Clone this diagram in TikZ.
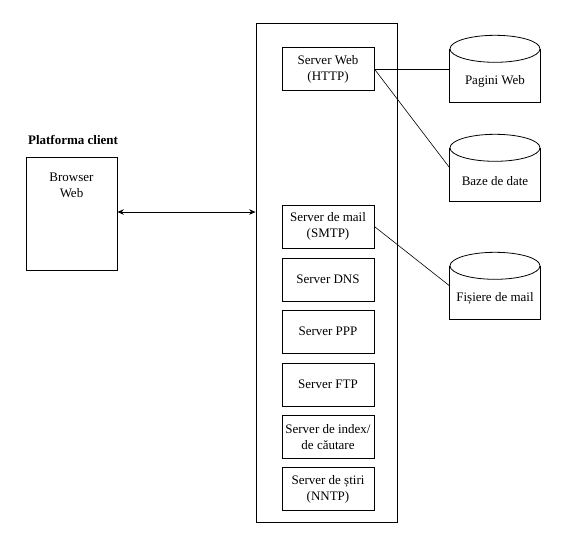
\documentclass[tikz,border=0pt]{standalone}
\usepackage{fontspec}
\setmainfont{Liberation Serif}
\usetikzlibrary{arrows.meta}
\newcommand{\mycyl}[1]{%
  \draw[line width=0.8pt] ([yshift=-13.5pt]#1.north) ellipse [x radius=45pt, y radius=13.5pt];
  \draw[line width=0.8pt] ([yshift=-13.5pt]#1.north west) -- (#1.south west) -- (#1.south east) -- ([yshift=-13.5pt]#1.north east);}
\begin{document}
\begin{tikzpicture}[x=1pt,y=-1pt,
  every node/.style={font=\fontsize{13}{16}\selectfont, align=center},
  srv/.style={draw, line width=0.8pt, minimum width=92pt, minimum height=43pt, inner sep=0pt},
  db/.style={minimum width=90pt, minimum height=67pt, inner sep=0pt},
  link/.style={line width=0.6pt}]
\useasboundingbox (0,0) rectangle (576,542);
\node[draw, line width=0.8pt, minimum width=141pt, minimum height=499pt, inner sep=0pt] (cont) at (326.5,272.5) {};
\node[font=\fontsize{13}{16}\selectfont\bfseries] (title) at (73,140) {Platforma client};
\node[draw, line width=0.8pt, minimum width=91pt, minimum height=113pt, inner sep=0pt] (br) at (71.5,213.5) {};
\node (brt) at (71.5,185) {Browser\\Web};
\node[srv] (web) at (328,69) {Server Web\\(HTTP)};
\node[srv] (mail) at (328,226.5) {Server de mail\\(SMTP)};
\node[srv] (dns) at (328,279.5) {Server DNS};
\node[srv] (ppp) at (328,331.5) {Server PPP};
\node[srv] (ftp) at (328,384.5) {Server FTP};
\node[srv] (idx) at (328,437) {Server de index/\\de căutare};
\node[srv] (stiri) at (328,489) {Server de știri\\(NNTP)};
\node[db] (pw) at (495,69) {};
\node[db] (bd) at (495,168) {};
\node[db] (fm) at (495,286) {};
\mycyl{pw}\mycyl{bd}\mycyl{fm}
\node (pwt) at ([yshift=-12.5pt]pw.center) {Pagini Web};
\node (bdt) at ([yshift=-13pt]bd.center) {Baze de date};
\node (fmt) at ([yshift=-12.5pt]fm.center) {Fișiere de mail};
\draw[line width=0.8pt, {Stealth[length=6.5pt,width=5.5pt]}-{Stealth[length=6.5pt,width=5.5pt]}] (br.east |- 0,212) -- (cont.west |- 0,212);
\draw[link] (web.east) -- (pw.west);
\draw[link] (web.east) -- (bd.west);
\draw[link] (mail.east) -- (fm.west);
\end{tikzpicture}
\end{document}
